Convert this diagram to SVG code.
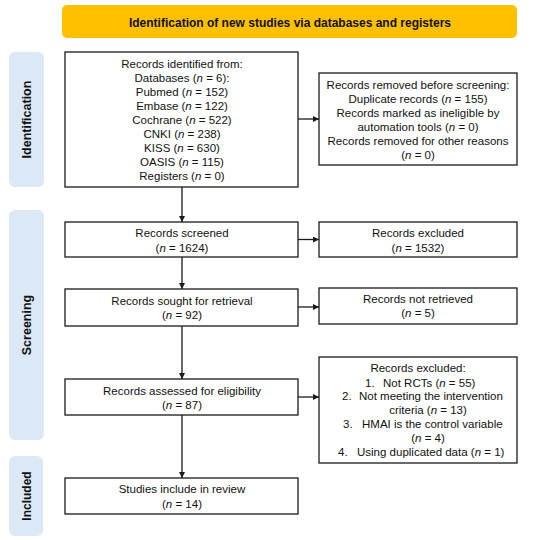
<svg xmlns="http://www.w3.org/2000/svg" width="550" height="540" viewBox="0 0 550 540">
<defs>
<style>
.box{fill:#fff;stroke:#1a1a1a;stroke-width:1.3}
.side{fill:#dbe9f7}
.t{font-family:"Liberation Sans",Arial,sans-serif;font-size:11.5px;fill:#111;text-anchor:middle}
.ts{font-family:"Liberation Sans",Arial,sans-serif;font-size:11.5px;fill:#111}
.b{font-family:"Liberation Sans",Arial,sans-serif;font-size:12px;font-weight:bold;fill:#111;text-anchor:middle}
.c{stroke:#1a1a1a;stroke-width:1.3;fill:none;marker-end:url(#ah)}
</style>
<marker id="ah" viewBox="0 0 10 10" refX="10" refY="5" markerWidth="6" markerHeight="6" markerUnits="userSpaceOnUse" orient="auto">
<path d="M0,0 L10,5 L0,10 Z" fill="#1a1a1a"/>
</marker>
</defs>
<rect width="550" height="540" fill="#fff"/>

<g id="header">
<rect x="62" y="5" width="455" height="33" rx="5" fill="#ffc000"/>
<text class="b" x="290" y="26.5">Identification of new studies via databases and registers</text>
</g>

<g id="side-identification">
<rect class="side" x="9" y="52" width="35" height="135" rx="6"/>
<text class="b" transform="translate(31,119.5) rotate(-90)" style="font-size:12.5px">Identification</text>
</g>
<g id="side-screening">
<rect class="side" x="9" y="210" width="35" height="230" rx="6"/>
<text class="b" transform="translate(31,325) rotate(-90)" style="font-size:12.5px">Screening</text>
</g>
<g id="side-included">
<rect class="side" x="9" y="456" width="34" height="80" rx="6"/>
<text class="b" transform="translate(30.5,496) rotate(-90)">Included</text>
</g>

<g id="connectors">
<line class="c" x1="182" y1="187" x2="182" y2="222"/>
<line class="c" x1="182" y1="257" x2="182" y2="289"/>
<line class="c" x1="182" y1="326" x2="182" y2="379"/>
<line class="c" x1="182" y1="415" x2="182" y2="478"/>
<line class="c" x1="298" y1="119" x2="319" y2="119"/>
<line class="c" x1="298" y1="239.5" x2="319" y2="239.5"/>
<line class="c" x1="298" y1="307" x2="319" y2="307"/>
<line class="c" x1="298" y1="397" x2="319" y2="397"/>
</g>

<g id="identified">
<rect class="box" x="65" y="52" width="233" height="135"/>
<text class="t" x="182" y="68">Records identified from:</text>
<text class="t" x="182" y="81.5">Databases (<tspan font-style="italic">n</tspan> = 6):</text>
<text class="t" x="182" y="96">Pubmed (<tspan font-style="italic">n</tspan> = 152)</text>
<text class="t" x="182" y="109.5">Embase (<tspan font-style="italic">n</tspan> = 122)</text>
<text class="t" x="182" y="123.5">Cochrane (<tspan font-style="italic">n</tspan> = 522)</text>
<text class="t" x="182" y="137.5">CNKI (<tspan font-style="italic">n</tspan> = 238)</text>
<text class="t" x="182" y="151.5">KISS (<tspan font-style="italic">n</tspan> = 630)</text>
<text class="t" x="182" y="166">OASIS (<tspan font-style="italic">n</tspan> = 115)</text>
<text class="t" x="182" y="180">Registers (<tspan font-style="italic">n</tspan> = 0)</text>
</g>

<g id="removed">
<rect class="box" x="319" y="73" width="198" height="92"/>
<text class="t" x="418" y="89">Records removed before screening:</text>
<text class="t" x="418" y="102.5">Duplicate records (<tspan font-style="italic">n</tspan> = 155)</text>
<text class="t" x="418" y="117">Records marked as ineligible by</text>
<text class="t" x="418" y="130.5">automation tools (<tspan font-style="italic">n</tspan> = 0)</text>
<text class="t" x="418" y="144.5">Records removed for other reasons</text>
<text class="t" x="418" y="159">(<tspan font-style="italic">n</tspan> = 0)</text>
</g>

<g id="screened">
<rect class="box" x="65" y="222" width="233" height="35"/>
<text class="t" x="182" y="237">Records screened</text>
<text class="t" x="182" y="252">(<tspan font-style="italic">n</tspan> = 1624)</text>
</g>

<g id="excluded1">
<rect class="box" x="319" y="222" width="198" height="35"/>
<text class="t" x="418" y="237">Records excluded</text>
<text class="t" x="418" y="252">(<tspan font-style="italic">n</tspan> = 1532)</text>
</g>

<g id="sought">
<rect class="box" x="65" y="289" width="233" height="37"/>
<text class="t" x="182" y="305">Records sought for retrieval</text>
<text class="t" x="182" y="319">(<tspan font-style="italic">n</tspan> = 92)</text>
</g>

<g id="notretrieved">
<rect class="box" x="319" y="288" width="198" height="36"/>
<text class="t" x="418" y="303">Records not retrieved</text>
<text class="t" x="418" y="317">(<tspan font-style="italic">n</tspan> = 5)</text>
</g>

<g id="assessed">
<rect class="box" x="65" y="379" width="233" height="36"/>
<text class="t" x="182" y="395">Records assessed for eligibility</text>
<text class="t" x="182" y="409">(<tspan font-style="italic">n</tspan> = 87)</text>
</g>

<g id="excluded2">
<rect class="box" x="319" y="357" width="198" height="106"/>
<text class="t" x="418" y="372">Records excluded:</text>
<text class="ts" x="365" y="387">1.</text>
<text class="ts" x="383" y="387">Not RCTs (<tspan font-style="italic">n</tspan> = 55)</text>
<text class="ts" x="342" y="400">2.</text>
<text class="ts" x="359" y="400">Not meeting the intervention</text>
<text class="t" x="428" y="414">criteria (<tspan font-style="italic">n</tspan> = 13)</text>
<text class="ts" x="343" y="428">3.</text>
<text class="ts" x="362" y="428">HMAI is the control variable</text>
<text class="t" x="428" y="442">(<tspan font-style="italic">n</tspan> = 4)</text>
<text class="ts" x="338" y="456">4.</text>
<text class="ts" x="357" y="456">Using duplicated data (<tspan font-style="italic">n</tspan> = 1)</text>
</g>

<g id="included">
<rect class="box" x="65" y="478" width="233" height="36"/>
<text class="t" x="182" y="493">Studies include in review</text>
<text class="t" x="182" y="508">(<tspan font-style="italic">n</tspan> = 14)</text>
</g>
</svg>
